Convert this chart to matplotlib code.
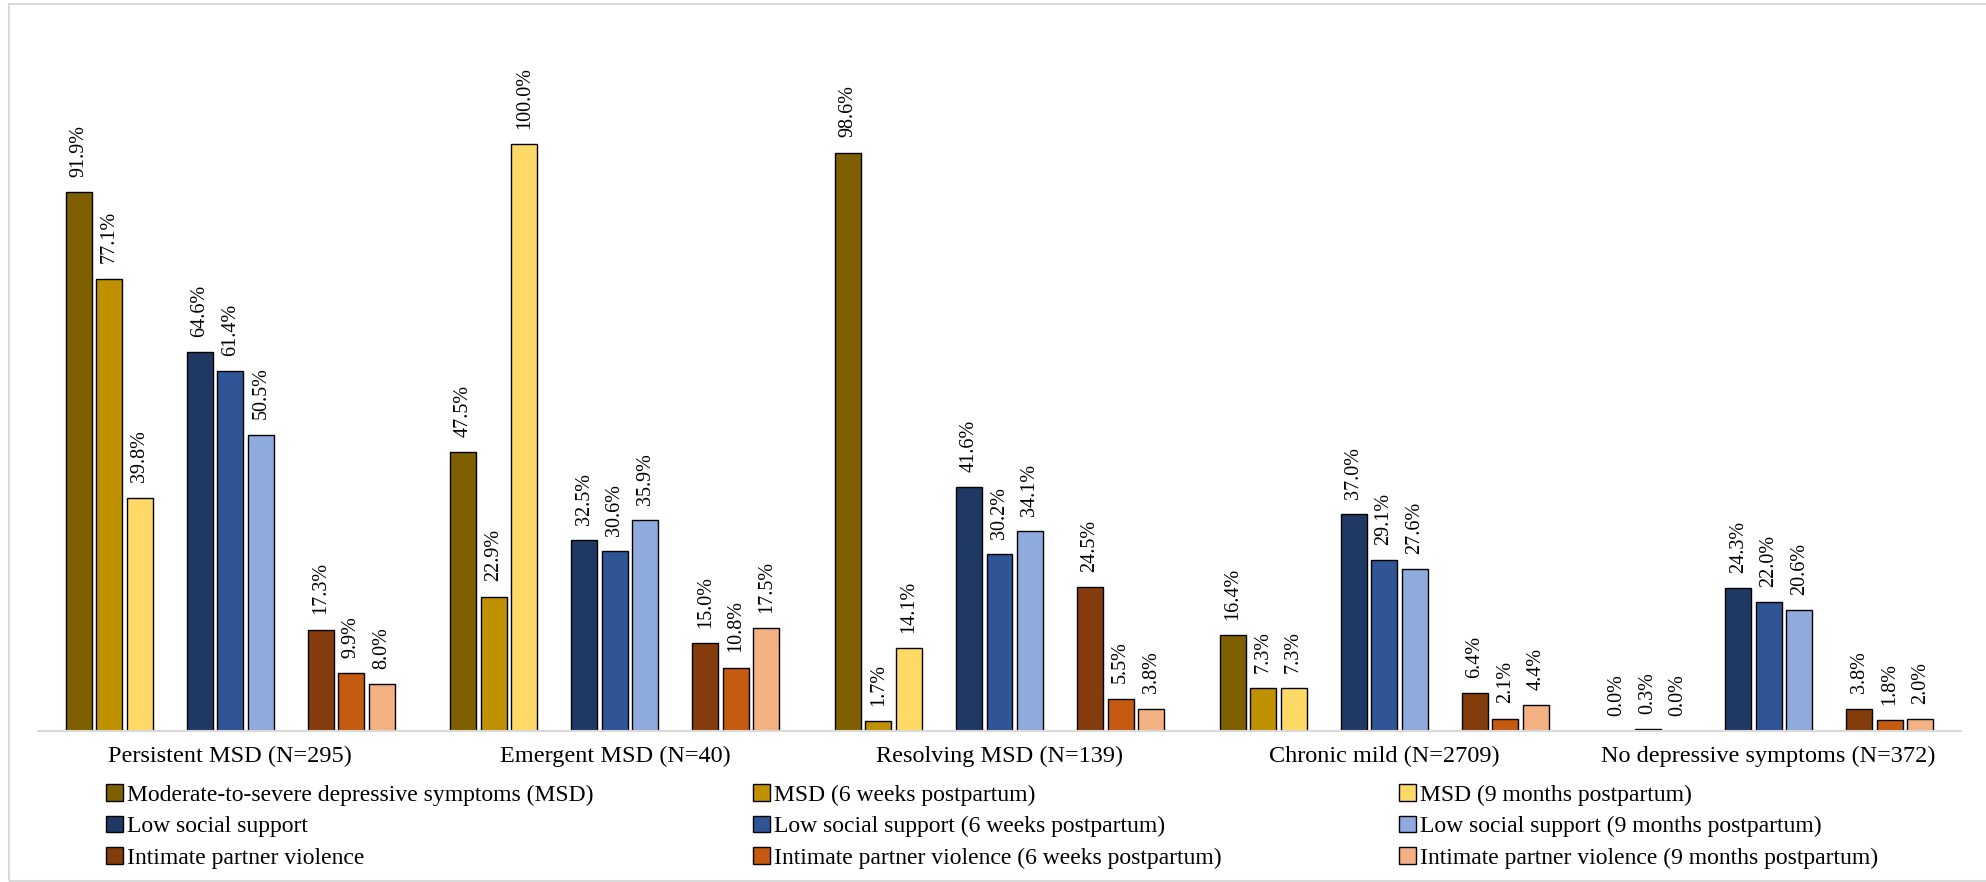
import numpy as np
import matplotlib
matplotlib.use('Agg')
import matplotlib.pyplot as plt
from matplotlib.patches import Rectangle

plt.rcParams['font.family'] = ['Liberation Serif', 'DejaVu Serif']

# data (percent)
categories = ['Persistent MSD (N=295)', 'Emergent MSD (N=40)', 'Resolving MSD (N=139)',
              'Chronic mild (N=2709)', 'No depressive symptoms (N=372)']
msd = [91.9, 47.5, 98.6, 16.4, 0.0]
msd_6wk = [77.1, 22.9, 1.7, 7.3, 0.3]
msd_9mo = [39.8, 100.0, 14.1, 7.3, 0.0]
lss = [64.6, 32.5, 41.6, 37.0, 24.3]
lss_6wk = [61.4, 30.6, 30.2, 29.1, 22.0]
lss_9mo = [50.5, 35.9, 34.1, 27.6, 20.6]
ipv = [17.3, 15.0, 24.5, 6.4, 3.8]
ipv_6wk = [9.9, 10.8, 5.5, 2.1, 1.8]
ipv_9mo = [8.0, 17.5, 3.8, 4.4, 2.0]

series = [
    ('Moderate-to-severe depressive symptoms (MSD)', msd, '#7F6000'),
    ('MSD (6 weeks postpartum)', msd_6wk, '#BF9000'),
    ('MSD (9 months postpartum)', msd_9mo, '#FFD966'),
    ('Low social support', lss, '#1F3864'),
    ('Low social support (6 weeks postpartum)', lss_6wk, '#2F5597'),
    ('Low social support (9 months postpartum)', lss_9mo, '#8FAADC'),
    ('Intimate partner violence', ipv, '#843C0C'),
    ('Intimate partner violence (6 weeks postpartum)', ipv_6wk, '#C55A11'),
    ('Intimate partner violence (9 months postpartum)', ipv_9mo, '#F4B183'),
]

fig = plt.figure(figsize=(19.86, 8.82), dpi=100)
ax = fig.add_axes([38 / 1986, 1 - 731 / 882, 1923 / 1986, 704 / 882])

x = np.arange(len(categories))
bar_w = 0.0676
step = 0.0793
cluster = 0.3147

handles = []
for i, (name, vals, col) in enumerate(series):
    off = (i // 3 - 1) * cluster + (i % 3 - 1) * step
    vals = np.array(vals)
    lw = np.where(vals > 0, 1.0, 0.0)
    bars = ax.bar(x + off, vals, bar_w, color=col, edgecolor='black', linewidth=lw, label=name)
    handles.append(bars)
    for xi, v in zip(x + off, vals):
        ax.annotate(f'{v:.1f}%', (xi, v), xytext=(0, 11), textcoords='offset points',
                    rotation=90, ha='center', va='bottom', fontsize=14.5)

ax.set_xlim(-0.5, 4.5)
ax.set_ylim(0, 120)
ax.set_yticks([])
ax.set_xticks(x)
ax.set_xticklabels(categories, fontsize=17.5)
ax.tick_params(axis='x', length=0, pad=11)
for s in ['top', 'right', 'left']:
    ax.spines[s].set_visible(False)
ax.spines['bottom'].set_color('#D9D9D9')
ax.spines['bottom'].set_linewidth(1.5)

# legend: three columns, row-major like the original
col_x = [106, 753, 1399]
for c in range(3):
    hs = [handles[c + 3 * r] for r in range(3)]
    fig.legend(hs, [h.get_label() for h in hs], loc='upper left',
               bbox_to_anchor=(col_x[c] / 1986, 1 - 784 / 882), frameon=False,
               fontsize=17, handlelength=0.72, handleheight=0.72, handletextpad=0.15,
               labelspacing=0.42, borderpad=0, borderaxespad=0)

# light chart border
fig.patches.append(Rectangle((9 / 1986, 1 / 882), 1.0, 877 / 882, transform=fig.transFigure,
                             fill=False, edgecolor='#D9D9D9', linewidth=1.5))

fig.savefig('out.png', dpi=100)
